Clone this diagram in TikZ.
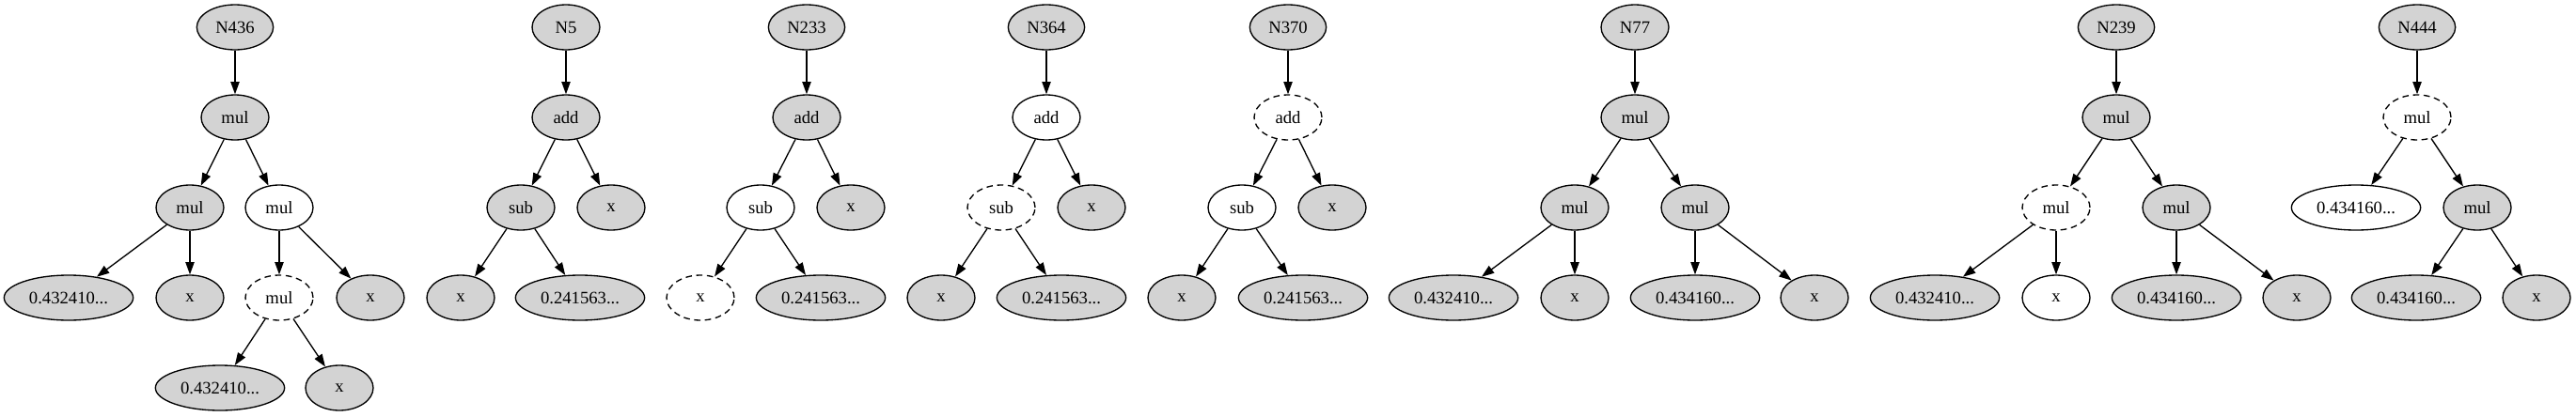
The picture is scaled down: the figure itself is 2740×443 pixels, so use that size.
\documentclass[tikz,border=0pt]{standalone}
\usepackage{fontspec}
\setmainfont{Liberation Serif}
\usetikzlibrary{shapes.geometric,arrows.meta}
\definecolor{nodegray}{HTML}{D3D3D3}
\begin{document}
\begin{tikzpicture}[x=0.75pt,y=-0.75pt,>={Triangle[length=10pt,width=7pt]},line width=1pt,
  every node/.style={ellipse,draw,line width=1pt,font=\fontsize{14pt}{16pt}\selectfont,inner sep=0pt,minimum height=36pt,minimum width=54pt},
  tag/.style={minimum width=61pt},
  num/.style={minimum width=103pt},
  gr/.style={fill=nodegray},
  ghost/.style={dash pattern=on 5pt off 3.5pt}]
  \useasboundingbox (0,0) rectangle (2740,443);
  \node[tag,gr] (a0) at (250,29) {N436};
  \node[gr] (a1) at (250,125) {mul};
  \node[gr] (a2) at (202,221) {mul};
  \node (a3) at (297,221) {mul};
  \node[num,gr] (a4) at (73,317) {0.432410...};
  \node[gr] (a5) at (202,317) {x};
  \node[ghost] (a6) at (297,317) {mul};
  \node[gr] (a7) at (394,317) {x};
  \node[num,gr] (a8) at (234,413) {0.432410...};
  \node[gr] (a9) at (361,413) {x};
  \draw[->] (a0)--(a1);
  \draw[->] (a1)--(a2);
  \draw[->] (a1)--(a3);
  \draw[->] (a2)--(a4);
  \draw[->] (a2)--(a5);
  \draw[->] (a3)--(a6);
  \draw[->] (a3)--(a7);
  \draw[->] (a6)--(a8);
  \draw[->] (a6)--(a9);
  \node[gr] (b0) at (602,29) {N5};
  \node[gr] (b1) at (602,125) {add};
  \node[gr] (b2) at (554,221) {sub};
  \node[gr] (b3) at (650,221) {x};
  \node[gr] (b4) at (490,317) {x};
  \node[num,gr] (b5) at (617,317) {0.241563...};
  \draw[->] (b0)--(b1);
  \draw[->] (b1)--(b2);
  \draw[->] (b1)--(b3);
  \draw[->] (b2)--(b4);
  \draw[->] (b2)--(b5);
  \node[tag,gr] (c0) at (858,29) {N233};
  \node[gr] (c1) at (858,125) {add};
  \node (c2) at (809,221) {sub};
  \node[gr] (c3) at (905,221) {x};
  \node[ghost] (c4) at (745,317) {x};
  \node[num,gr] (c5) at (873,317) {0.241563...};
  \draw[->] (c0)--(c1);
  \draw[->] (c1)--(c2);
  \draw[->] (c1)--(c3);
  \draw[->] (c2)--(c4);
  \draw[->] (c2)--(c5);
  \node[tag,gr] (d0) at (1113,29) {N364};
  \node (d1) at (1113,125) {add};
  \node[ghost] (d2) at (1065,221) {sub};
  \node[gr] (d3) at (1161,221) {x};
  \node[gr] (d4) at (1001,317) {x};
  \node[num,gr] (d5) at (1129,317) {0.241563...};
  \draw[->] (d0)--(d1);
  \draw[->] (d1)--(d2);
  \draw[->] (d1)--(d3);
  \draw[->] (d2)--(d4);
  \draw[->] (d2)--(d5);
  \node[tag,gr] (e0) at (1370,29) {N370};
  \node[ghost] (e1) at (1370,125) {add};
  \node (e2) at (1321,221) {sub};
  \node[gr] (e3) at (1417,221) {x};
  \node[gr] (e4) at (1257,317) {x};
  \node[num,gr] (e5) at (1386,317) {0.241563...};
  \draw[->] (e0)--(e1);
  \draw[->] (e1)--(e2);
  \draw[->] (e1)--(e3);
  \draw[->] (e2)--(e4);
  \draw[->] (e2)--(e5);
  \node[gr] (f0) at (1739,29) {N77};
  \node[gr] (f1) at (1739,125) {mul};
  \node[gr] (f2) at (1675,221) {mul};
  \node[gr] (f3) at (1803,221) {mul};
  \node[num,gr] (f4) at (1546,317) {0.432410...};
  \node[gr] (f5) at (1675,317) {x};
  \node[num,gr] (f6) at (1803,317) {0.434160...};
  \node[gr] (f7) at (1930,317) {x};
  \draw[->] (f0)--(f1);
  \draw[->] (f1)--(f2);
  \draw[->] (f1)--(f3);
  \draw[->] (f2)--(f4);
  \draw[->] (f2)--(f5);
  \draw[->] (f3)--(f6);
  \draw[->] (f3)--(f7);
  \node[tag,gr] (g0) at (2251,29) {N239};
  \node[gr] (g1) at (2251,125) {mul};
  \node[ghost] (g2) at (2187,221) {mul};
  \node[gr] (g3) at (2315,221) {mul};
  \node[num,gr] (g4) at (2058,317) {0.432410...};
  \node (g5) at (2187,317) {x};
  \node[num,gr] (g6) at (2315,317) {0.434160...};
  \node[gr] (g7) at (2443,317) {x};
  \draw[->] (g0)--(g1);
  \draw[->] (g1)--(g2);
  \draw[->] (g1)--(g3);
  \draw[->] (g2)--(g4);
  \draw[->] (g2)--(g5);
  \draw[->] (g3)--(g6);
  \draw[->] (g3)--(g7);
  \node[tag,gr] (h0) at (2571,29) {N444};
  \node[ghost] (h1) at (2571,125) {mul};
  \node[num] (h2) at (2506,221) {0.434160...};
  \node[gr] (h3) at (2635,221) {mul};
  \node[num,gr] (h4) at (2570,317) {0.434160...};
  \node[gr] (h5) at (2698,317) {x};
  \draw[->] (h0)--(h1);
  \draw[->] (h1)--(h2);
  \draw[->] (h1)--(h3);
  \draw[->] (h3)--(h4);
  \draw[->] (h3)--(h5);
\end{tikzpicture}
\end{document}
